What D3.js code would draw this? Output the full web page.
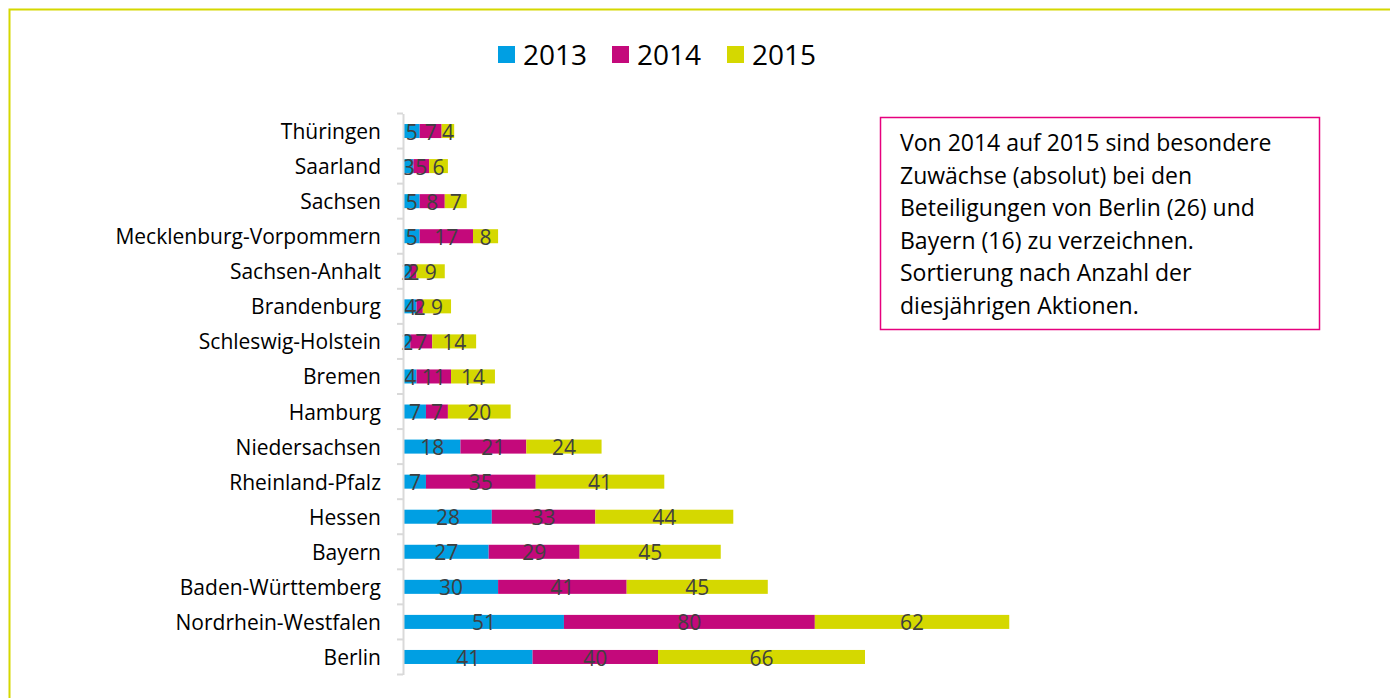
<!DOCTYPE html>
<html>
<head>
<meta charset="utf-8">
<script src="https://cdn.jsdelivr.net/npm/d3@7"></script>
<style>
  body { margin: 0; background: #fff; }
  svg { display: block; font-family: "Open Sans", sans-serif; }
</style>
</head>
<body>
<svg id="chart" width="1390" height="698"></svg>
<script>
// Bundesländer, sortiert nach Aktionen 2015 (oben klein, unten groß)
const states = ['Thüringen', 'Saarland', 'Sachsen', 'Mecklenburg-Vorpommern', 'Sachsen-Anhalt',
  'Brandenburg', 'Schleswig-Holstein', 'Bremen', 'Hamburg', 'Niedersachsen',
  'Rheinland-Pfalz', 'Hessen', 'Bayern', 'Baden-Württemberg', 'Nordrhein-Westfalen', 'Berlin'];
const years = ['2013', '2014', '2015'];
const v2013 = [5, 3, 5, 5, 2, 4, 2, 4, 7, 18, 7, 28, 27, 30, 51, 41];
const v2014 = [7, 5, 8, 17, 2, 2, 7, 11, 7, 21, 35, 33, 29, 41, 80, 40];
const v2015 = [4, 6, 7, 8, 9, 9, 14, 14, 20, 24, 41, 44, 45, 45, 62, 66];
const colors = ['#009fe3', '#c4097b', '#d5d800'];
const note = ['Von 2014 auf 2015 sind besondere', 'Zuwächse (absolut) bei den',
  'Beteiligungen von Berlin (26) und', 'Bayern (16) zu verzeichnen.',
  'Sortierung nach Anzahl der', 'diesjährigen Aktionen.'];

const svg = d3.select('#chart');

// Rahmen (nur oben/links sichtbar)
svg.append('rect')
  .attr('x', 9.5).attr('y', 9.5)
  .attr('width', 1400).attr('height', 720)
  .attr('fill', 'none').attr('stroke', '#d5d800').attr('stroke-width', 2);

const rows = states.map((s, i) => ({ state: s, '2013': v2013[i], '2014': v2014[i], '2015': v2015[i] }));
const series = d3.stack().keys(years)(rows);

const x = d3.scaleLinear().domain([0, 147]).range([404, 865]);
const y = d3.scaleBand().domain(states).range([113.5, 674.5]).paddingInner(0.6).paddingOuter(0.3);

// Balken
const g = svg.append('g');
series.forEach((ser, k) => {
  g.selectAll(null).data(ser).enter().append('rect')
    .attr('x', d => x(d[0]))
    .attr('y', d => y(d.data.state))
    .attr('width', d => x(d[1]) - x(d[0]))
    .attr('height', y.bandwidth())
    .attr('fill', colors[k]);
});

// Datenbeschriftungen
series.forEach((ser, k) => {
  g.selectAll(null).data(ser).enter().append('text')
    .attr('x', d => (x(d[0]) + x(d[1])) / 2)
    .attr('y', d => y(d.data.state) + y.bandwidth() / 2 + 1)
    .attr('dy', '0.36em')
    .attr('text-anchor', 'middle')
    .attr('font-size', 21)
    .attr('fill', '#404040')
    .text(d => d[1] - d[0]);
});

// Kategorie-Achse
const axis = svg.append('g').attr('transform', 'translate(403,0)')
  .call(d3.axisLeft(y).tickSize(0).tickPadding(22));
axis.select('.domain').attr('stroke', '#d9d9d9').attr('stroke-width', 2);
axis.selectAll('text').attr('font-size', 21).attr('fill', '#000')
  .attr('font-family', '"Open Sans", sans-serif').attr('dy', '0.38em');
// Trennstriche zwischen Kategorien
const step = y.step();
const edges = d3.range(states.length + 1).map(i => y.range()[0] + i * step);
axis.selectAll('.sep').data(edges).enter().append('line')
  .attr('x1', -6).attr('x2', 0)
  .attr('y1', d => d).attr('y2', d => d)
  .attr('stroke', '#d9d9d9').attr('stroke-width', 2);

// Legende
const legend = svg.append('g');
const lx = [498, 612, 727];
years.forEach((yr, i) => {
  legend.append('rect').attr('x', lx[i]).attr('y', 46).attr('width', 17).attr('height', 17).attr('fill', colors[i]);
  legend.append('text').attr('x', lx[i] + 25).attr('y', 54.5).attr('dy', '0.36em')
    .attr('font-size', 28).attr('fill', '#000').text(yr);
});

// Textbox
svg.append('rect')
  .attr('x', 880.5).attr('y', 117.5).attr('width', 439).attr('height', 212)
  .attr('fill', '#fff').attr('stroke', '#e6007e').attr('stroke-width', 1.5);
svg.append('g').selectAll('text').data(note).enter().append('text')
  .attr('x', 900)
  .attr('y', (d, i) => 143 + i * 32.5)
  .attr('dy', '0.36em')
  .attr('font-size', 23)
  .attr('fill', '#000')
  .text(d => d);
</script>
</body>
</html>
